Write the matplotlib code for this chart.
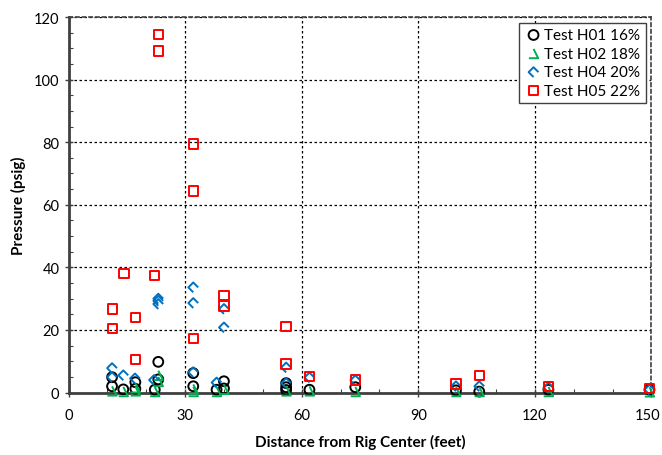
import matplotlib
matplotlib.use("Agg")
import matplotlib.pyplot as plt
from matplotlib.path import Path
from matplotlib.ticker import MultipleLocator
from matplotlib.transforms import ScaledTranslation

plt.rcParams['font.family'] = ['Lato', 'DejaVu Sans']

# H01 16%
h01_x = [11.2, 11.2, 14.1, 17.2, 17.2, 22.2, 23.1, 23.1, 32.1, 32.1, 38.1, 40.0, 40.0,
         56.0, 56.0, 56.0, 62.0, 73.8, 99.7, 105.7, 123.5, 149.5]
h01_y = [4.9, 2.0, 1.0, 3.3, 1.2, 0.9, 9.8, 4.2, 6.2, 2.0, 0.9, 3.6, 1.3,
         3.0, 1.7, 0.8, 0.9, 1.7, 0.7, 0.3, 0.9, 0.9]
# H02 18%
h02_x = [11.2, 14.1, 17.2, 17.2, 22.2, 23.1, 23.1, 32.1, 32.1, 38.1, 40.0,
         56.0, 62.0, 73.8, 99.7, 105.7, 123.5, 149.5]
h02_y = [0.5, 0.3, 0.5, 1.5, 0.3, 5.5, 3.5, 1.1, 0.3, 0.3, 1.0,
         0.5, 0.5, 0.3, 0.3, 0.3, 0.3, 0.2]
# H04 20%
h04_x = [11.2, 11.2, 14.1, 17.1, 22.0, 23.1, 23.1, 23.1, 32.1, 32.1, 32.1, 38.1, 40.0, 40.0,
         56.0, 56.0, 62.0, 73.8, 99.7, 105.7, 123.5, 149.5]
h04_y = [7.8, 4.9, 5.5, 4.5, 4.0, 28.3, 29.3, 30.0, 33.6, 28.6, 6.5, 3.2, 26.7, 20.8,
         8.0, 3.0, 4.8, 3.9, 2.0, 2.0, 1.6, 0.9]
# H05 22%
h05_x = [11.3, 11.3, 14.3, 17.2, 17.3, 22.2, 23.1, 23.1, 32.1, 32.1, 32.1, 40.0, 40.0,
         56.0, 56.0, 62.0, 73.8, 99.7, 105.7, 123.5, 149.5]
h05_y = [26.7, 20.5, 38.0, 23.9, 10.5, 37.3, 114.5, 109.1, 79.4, 64.4, 17.3, 30.9, 27.7,
         21.1, 9.1, 5.2, 4.0, 2.7, 5.4, 2.0, 1.3]

labels = ['Test H01 16%', 'Test H02 18%', 'Test H04 20%', 'Test H05 22%']
colors = ['#000000', '#00B050', '#0070C0', '#FF0000']

x_ticks = [0, 30, 60, 90, 120, 150]
y_ticks = [0, 20, 40, 60, 80, 100, 120]

tri_open = Path([(0, 0.5), (0.5, -0.5), (-0.5, -0.5)],
                [Path.MOVETO, Path.LINETO, Path.LINETO])
dia_open = Path([(0, -0.5), (-0.5, 0), (0, 0.5), (0.5, 0)],
                [Path.MOVETO, Path.LINETO, Path.LINETO, Path.LINETO])
markers = ['o', tri_open, dia_open, 's']

fig = plt.figure(figsize=(6.62, 4.56), dpi=100)
ax = fig.add_axes([0.1035, 0.137, 0.8805, 0.8235])

series = [(h01_x, h01_y), (h02_x, h02_y), (h04_x, h04_y), (h05_x, h05_y)]
sizes = [50, 45, 50, 45]
for (xs, ys), lab, c, m, s in zip(series, labels, colors, markers, sizes):
    ax.scatter(xs, ys, marker=m, s=s, facecolors='none', edgecolors=c,
               linewidths=1.4, label=lab, zorder=3, clip_on=False)

ax.set_xlim(0, 150)
ax.set_ylim(0, 120)
ax.set_xticks(x_ticks)
ax.set_yticks(y_ticks)
ax.xaxis.set_minor_locator(MultipleLocator(10))
ax.yaxis.set_minor_locator(MultipleLocator(5))
ax.tick_params(which='major', direction='inout', length=6, width=1, labelsize=10.5,
               colors='#404040', labelcolor='black')
ax.tick_params(which='minor', direction='in', length=3, width=0.8, colors='#404040')
ax.tick_params(axis='x', pad=8)

ax.grid(True, which='major', linestyle=(0, (2, 2)), color='black', linewidth=0.9)
for side in ['left', 'bottom']:
    ax.spines[side].set_linewidth(2)
    ax.spines[side].set_color('#404040')
for side in ['top', 'right']:
    ax.spines[side].set_linestyle((0, (2, 2)))
    ax.spines[side].set_linewidth(1.2)
    ax.spines[side].set_color('#404040')

ax.set_xlabel('Distance from Rig Center (feet)', fontsize=11, fontweight='bold', labelpad=9)
ax.set_ylabel('Pressure (psig)', fontsize=11, fontweight='bold', labelpad=6)

# keep the last x tick label inside the figure edge
fig.canvas.draw()
last = ax.get_xticklabels()[-1]
last.set_transform(last.get_transform() + ScaledTranslation(-4 / 100, 0, fig.dpi_scale_trans))

leg = ax.legend(loc='upper right', bbox_to_anchor=(0.99, 0.985), borderaxespad=0,
                fontsize=11, fancybox=False, framealpha=1, edgecolor='#404040',
                handletextpad=0.1, handlelength=1.2, borderpad=0.35, labelspacing=0.3)
leg.get_frame().set_linewidth(1.0)

fig.savefig('out.png', dpi=100)
